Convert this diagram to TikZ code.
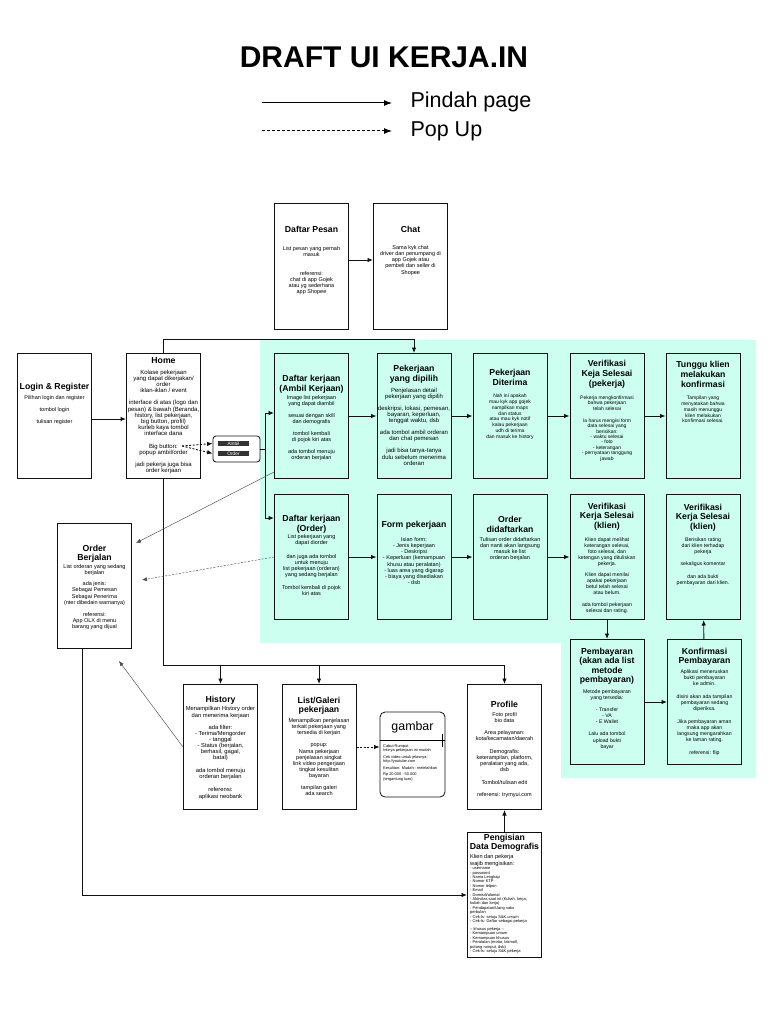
\documentclass[tikz,border=0pt]{standalone}
\usepackage{fontspec}
\setmainfont{Liberation Sans}
\usepackage{xcolor}
\usepackage{tikz}
\usetikzlibrary{positioning,arrows.meta,calc,backgrounds}
\definecolor{ink}{HTML}{111111}
\definecolor{mint}{HTML}{CCFFF0}
\definecolor{wire}{HTML}{4A4A4A}
\definecolor{chip}{HTML}{333333}
\newcommand{\hdsize}{\fontsize{8.7}{10}\selectfont\bfseries}
\newcommand{\txtsize}{\fontsize{5.5}{6.1}\selectfont}
\newcommand{\bigtxt}{\fontsize{6}{6.2}\selectfont}
\newcommand{\smalltxt}{\fontsize{5}{5.9}\selectfont}
\newcommand{\finesize}{\fontsize{4}{4.3}\selectfont}

\begin{document}
\begin{tikzpicture}[x=1pt,y=-1pt,
  box/.style={draw=ink,line width=1pt,minimum width=74pt,minimum height=125pt,inner sep=0pt},
  hd/.style={font=\hdsize,align=center,inner sep=0pt,anchor=north},
  txt/.style={font=\txtsize,align=center,inner sep=0pt,anchor=north},
  fine/.style={font=\finesize,align=left,inner sep=0pt,anchor=north west},
  flow/.style={draw=ink,line width=0.9pt,-{Latex[length=5.5pt,width=4.5pt]}},
  popflow/.style={flow,dash pattern=on 2pt off 1.6pt},
  thinlink/.style={draw=wire,line width=0.45pt,-{Latex[length=5pt,width=4pt]}},
  chipbox/.style={fill=chip,text=white,font=\fontsize{4.8}{4.8}\selectfont,minimum width=31pt,minimum height=5.5pt,inner sep=0pt}]
  \useasboundingbox (0,0) rectangle (768,1024);
  %% mint area behind the work flow
  \fill[mint] (260,340) -- (756,340) -- (756,778) -- (561,778) -- (561,643) -- (260,643) -- cycle;
  %% title and legend
  \node[font=\fontsize{30}{32}\selectfont\bfseries] (title) at (384,57) {DRAFT UI KERJA.IN};
  \coordinate (lgA) at (262,103); \coordinate (lgB) at (392,103);
  \coordinate (lgC) at (262,131); \coordinate (lgD) at (392,131);
  \draw[line width=1pt,-{Latex[length=8pt,width=6pt]}] (lgA) -- (lgB);
  \draw[line width=1pt,dash pattern=on 3pt off 2pt,-{Latex[length=8pt,width=6pt]}] (lgC) -- (lgD);
  \node[anchor=west,font=\fontsize{21.5}{23}\selectfont] (lgPage) at (407,102) {Pindah page};
  \node[anchor=west,font=\fontsize{21.5}{23}\selectfont] (lgPop) at (407,131) {Pop Up};
  %% page boxes
  \foreach \n/\x/\y in {pesan/311.5/266.5, chat/410.5/266.5, login/54.5/416, home/163.5/416,
      ambil/311.5/416, dipilih/414/416, diterima/510/416, verpek/607/416, tunggu/703/416,
      order/311.5/557, form/414/557, didaftar/510/557, verkli/607/557, verkli2/703/557,
      bayar/607/702, konf/704.5/702, berjalan/94.5/586, history/220.5/747, galeri/319/747,
      profile/504.5/747, isi/504.5/895}
    \node[box] (\n) at (\x,\y) {};
  %% top pages
  \node[hd] (pesanH) at (311.5,226) {Daftar Pesan};
  \node[txt] (pesanT) at (311.5,246.5) {List pesan yang pernah\\masuk\\[12.8pt]referensi:\\chat di app Gojek\\atau yg sederhana\\app Shopee};
  \node[hd] (chatH) at (410.5,226) {Chat};
  \node[txt] (chatT) at (410.5,245.5) {Sama kyk chat\\driver dan penumpang di\\app Gojek atau\\pembeli dan seller di\\Shopee};
  %% entry
  \node[hd] (loginH) at (54.5,383) {Login \& Register};
  \node[txt] (loginT) at (54.5,395.5) {Pilihan login dan register\\[5.8pt]tombol login\\[5.8pt]tulisan register};
  \node[hd] (homeH) at (163.5,357) {Home};
  \node[txt,font=\bigtxt] (homeT) at (163.5,369.5) {Kolase pekerjaan\\yang dapat dikerjakan/\\order\\iklan-iklan / event\\[6pt]interface di atas (logo dan\\pesan) \& bawah (Beranda,\\history, list pekerjaan,\\big button, profil)\\kurleb kaya tombol\\interface dana\\[6pt]Big button:\\popup ambil/order\\[6pt]jadi pekerja juga bisa\\order kerjaan};
  %% big button popup
  \node[draw=ink,fill=white,line width=0.8pt,rounded corners=3pt,minimum width=47pt,minimum height=26pt] (pop) at (236.5,449) {};
  \node[chipbox] (ambilBtn) at (233.5,443.5) {Ambil};
  \node[chipbox] (orderBtn) at (233.5,453.5) {Order};
  %% row 1: ambil kerjaan
  \node[hd] (ambilH) at (311.5,374.7) {Daftar kerjaan\\(Ambil Kerjaan)};
  \node[txt] (ambilT) at (311.5,395.5) {Image list pekerjaan\\yang dapat diambil\\[5.8pt]sesuai dengan skill\\dan demografis\\[5.8pt]tombol kembali\\di pojok kiri atas\\[5.8pt]ada tombol menuju\\orderan berjalan};
  \node[hd] (dipilihH) at (414,364.7) {Pekerjaan\\yang dipilih};
  \node[txt,font=\bigtxt] (dipilihT) at (414,387.5) {Penjelasan detail\\pekerjaan yang dipilih\\[5.8pt]deskripsi, lokasi, pemesan,\\bayaran, keperluan,\\tenggat waktu, dsb\\[5.8pt]ada tombol ambil orderan\\dan chat pemesan\\[5.8pt]jadi bisa tanya-tanya\\dulu sebelum menerima\\orderan};
  \node[hd] (diterimaH) at (510,368.7) {Pekerjaan\\Diterima};
  \node[txt,font=\smalltxt] (diterimaT) at (510,393.5) {Nah ini apakah\\mau kyk app gojek\\nampilkan maps\\dan status\\atau mau kyk notif\\kalau pekerjaan\\udh di terima\\dan masuk ke history};
  \node[hd] (verpekH) at (607,359.7) {Verifikasi\\Keja Selesai\\(pekerja)};
  \node[txt,font=\fontsize{5}{5.4}\selectfont] (verpekT) at (607,395.5) {Pekerja mengkonfirmasi\\bahwa pekerjaan\\telah selesai\\[6.8pt]Ia harus mengisi form\\data selesai yang\\berisikan:\\- waktu selesai\\- foto\\- keterangan\\- pernyataan tanggung\\jawab};
  \node[hd] (tungguH) at (703,360.7) {Tunggu klien\\melakukan\\konfirmasi};
  \node[txt,font=\smalltxt] (tungguT) at (703,395.5) {Tampilan yang\\menyatakan bahwa\\masih menunggu\\klien melakukan\\konfirmasi selesai.};
  %% row 2: order kerjaan
  \node[hd] (orderH) at (311.5,514.7) {Daftar kerjaan\\(Order)};
  \node[txt] (orderT) at (311.5,534.5) {List pekerjaan yang\\dapat diorder\\[7.5pt]dan juga ada tombol\\untuk menuju\\list pekerjaan (orderan)\\yang sedang berjalan\\[7pt]Tombol kembali di pojok\\kiri atas};
  \node[hd] (formH) at (414,520.7) {Form pekerjaan};
  \node[txt] (formT) at (414,537.5) {Isian form:\\- Jenis keperjaan\\- Deskripsi\\- Keperluan (kemampuan\\khusu atau peralatan)\\- luas area yang digarap\\- biaya yang disediakan\\- dsb};
  \node[hd] (didaftarH) at (510,515.7) {Order\\didaftarkan};
  \node[txt] (didaftarT) at (510,537.5) {Tulisan order didaftarkan\\dan nanti akan langsung\\masuk ke list\\orderan berjalan};
  \node[hd,font=\fontsize{8.7}{9.5}\selectfont\bfseries] (verkliH) at (607,502.7) {Verifikasi\\Kerja Selesai\\(klien)};
  \node[txt,font=\fontsize{5.2}{6}\selectfont] (verkliT) at (607,537.5) {Klien dapat melihat\\keterangan selesai,\\foto selesai, dan\\ketengan yang dituliskan\\pekerja.\\[5.5pt]Klien dapat menilai\\apakai pekerjaan\\betul telah selesai\\atau belum.\\[5.5pt]ada tombol pekerjaan\\selesai dan rating.};
  \node[hd,font=\fontsize{8.7}{9.5}\selectfont\bfseries] (verkli2H) at (703,503.7) {Verifikasi\\Kerja Selesai\\(klien)};
  \node[txt,font=\fontsize{5.2}{6}\selectfont] (verkli2T) at (703,537.5) {Berisikan rating\\dari klien terhadap\\pekerja\\[6pt]sekaligus komentar\\[7pt]dan ada bukti\\pembayaran dari klien.};
  %% row 3: payment
  \node[hd,font=\fontsize{8.7}{9.5}\selectfont\bfseries] (bayarH) at (607,647.7) {Pembayaran\\(akan ada list\\metode\\pembayaran)};
  \node[txt,font=\fontsize{5.2}{6.1}\selectfont] (bayarT) at (607,689.5) {Metode pembayaran\\yang tersedia:\\[6pt]- Transfer\\- VA\\- E Wallet\\[6pt]Lalu ada tombol\\upload bukti\\bayar};
  \node[hd,font=\fontsize{8.7}{9.5}\selectfont\bfseries] (konfH) at (704.5,647.7) {Konfirmasi\\Pembayaran};
  \node[txt,font=\fontsize{5.2}{6.1}\selectfont] (konfT) at (704.5,669.5) {Aplikasi meneruskan\\bukti pembayaran\\ke admin.\\[7pt]disini akan ada tampilan\\pembayaran sedang\\diperiksa.\\[6pt]Jika pembayaran aman\\maka app akan\\langsung mengarahkan\\ke laman rating.\\[7pt]referensi: flip};
  %% order berjalan
  \node[hd,font=\fontsize{8.7}{9.5}\selectfont\bfseries] (berjalanH) at (94.5,544.7) {Order\\Berjalan};
  \node[txt] (berjalanT) at (94.5,564.5) {List orderan yang sedang\\berjalan\\[5pt]ada jenis:\\Sebagai Pemesan\\Sebagai Penerima\\(nter dibedain warnanya)\\[6pt]referensi:\\App OLX di menu\\barang yang dijual};
  %% bottom pages
  \node[hd] (historyH) at (220.5,695.7) {History};
  \node[txt,font=\fontsize{5.8}{6.1}\selectfont] (historyT) at (220.5,706.5) {Menampilkan History order\\dan menerima kerjaan\\[6pt]ada filter:\\- Terima/Mengorder\\- tanggal\\- Status (berjalan,\\berhasil, gagal,\\batal)\\[7pt]ada tombol menuju\\orderan berjalan\\[7pt]referensi:\\aplikasi neobank};
  \node[hd,font=\fontsize{8.7}{9}\selectfont\bfseries] (galeriH) at (319,696.7) {List/Galeri\\pekerjaan};
  \node[txt] (galeriT) at (319,718.5) {Menampilkan penjelasan\\terkait pekerjaan yang\\tersedia di kerjain\\[6pt]popup:\\Nama pekerjaan\\penjelasan singkat\\link video pengerjaan\\tingkat kesulitan\\bayaran\\[6pt]tampilan galeri\\ada search};
  \node[draw=ink,line width=0.8pt,rounded corners=5pt,minimum width=65pt,minimum height=85pt] (gambar) at (412.5,754.5) {};
  \draw[line width=0.9pt] (gambar.west |- 0,740) -- (gambar.east |- 0,740);
  \draw[line width=1.3pt] ([xshift=-3pt]gambar.east |- 0,734) -- ([xshift=-3pt]gambar.east |- 0,747);
  \node[font=\fontsize{12.4}{14}\selectfont] (gambarH) at (412.5,727) {gambar};
  \node[fine,font=\fontsize{3.9}{4.1}\selectfont] (gambarT) at (383,744) {Cabut Rumput\\Intinya pekerjaan ini mudah\\[2.8pt]Cek video untuk jelasnya:\\http://youtube.com\\[2.8pt]Kesulitan: Mudah - melelahkan\\[2.8pt]Rp 20.000 - 50.000\\(tergantung luas)};
  \node[hd] (profileH) at (504.5,700.7) {Profile};
  \node[txt] (profileT) at (504.5,712.5) {Foto profil\\bio data\\[6pt]Area pelayanan:\\kota/kecamatan/daerah\\[6pt]Demografis:\\keterampilan, platform,\\peralatan yang ada,\\dsb\\[7pt]Tombol/tulisan edit\\[6pt]referensi: trymyui.com};
  \node[hd,font=\fontsize{8.7}{9.5}\selectfont\bfseries] (isiH) at (504.5,833.7) {Pengisian\\Data Demografis};
  \node[font=\fontsize{5.6}{6.8}\selectfont,align=left,inner sep=0pt,anchor=north west] (isiA) at (470,854.5) {Klien dan pekerja\\wajib mengisikan:};
  \node[fine,font=\fontsize{4}{4.4}\selectfont] (isiB) at (470,867.3) {- username\\- password\\- Nama Lengkap\\- Nomor KTP\\- Nomor telpon\\- Email\\- Domisili/alamat\\- Aktivitas saat ini (Kuliah, kerja,\\kuliah dan kerja)\\- Pendapatan/Uang saku\\perbulan\\- Cek-ls: setuju S\&K umum\\- Cek-ls: Daftar sebagai pekerja\\[3.6pt]-- khusus pekerja --\\- Kemampuan umum\\- Kemampuan khusus\\- Peralatan (motor, lakmoll,\\potong rumput, dsb)\\- Cek-ls: setuju S\&K pekerja};
  %% connectors
  \draw[flow] ([yshift=6.5pt]pesan.east) -- ([yshift=6.5pt]chat.west);
  \draw[flow] ([yshift=-3pt]login.east) -- ([yshift=-3pt]home.west);
  \draw[flow] (ambil) -- (dipilih);
  \draw[flow] (dipilih) -- (diterima);
  \draw[flow] (diterima) -- (verpek);
  \draw[flow] (verpek) -- (tunggu);
  \draw[flow] (order) -- (form);
  \draw[flow] (form) -- (didaftar);
  \draw[flow] (didaftar) -- (verkli);
  \draw[flow] (verkli) -- (bayar);
  \draw[flow] (bayar) -- (konf);
  \draw[flow] (konf) -- (verkli2);
  \draw[flow] (isi) -- (profile);
  %% home to the chosen job, over the mint area
  \coordinate (topbar) at (163.5,339);
  \draw[flow] (home.north) |- (dipilih.north |- topbar) -- (dipilih.north);
  %% popup to the two lists
  \coordinate (bigbtn) at (182,446);
  \coordinate (split) at (265,449);
  \draw[popflow] (bigbtn) -- (pop.west |- ambilBtn);
  \draw[popflow] (bigbtn) -- (pop.west |- orderBtn);
  \draw[line width=0.9pt] (pop.east |- split) -- (split);
  \draw[flow] (split) |- ([yshift=3pt]ambil.west);
  \draw[flow] (split) |- ([yshift=39pt]order.west);
  %% home menu bar
  \coordinate (bus) at (163.5,665);
  \draw[flow] (home.south) |- (profile.north |- bus) -- (profile.north);
  \draw[flow] (history.north |- bus) -- (history.north);
  \draw[flow] (galeri.north |- bus) -- (galeri.north);
  \draw[popflow] (galeri.east) -- (gambar.west |- galeri.east);
  \draw[flow] ([xshift=-12pt]berjalan.south) |- (isi.west);
  %% links back to order berjalan
  \coordinate (bjA) at (136,543);
  \coordinate (bjB) at (142,580);
  \coordinate (bjC) at (119,661);
  \draw[thinlink] ([yshift=7pt]ambil.south west) -- (bjA);
  \draw[thinlink,dash pattern=on 2pt off 1.5pt] (order.west) -- (bjB);
  \draw[thinlink] (history.west) -- (bjC);
\end{tikzpicture}
\end{document}
